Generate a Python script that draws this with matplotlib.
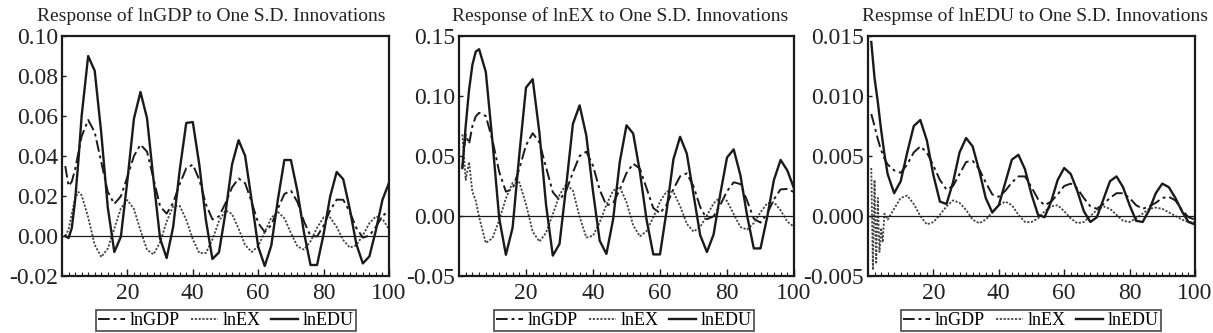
import numpy as np
import matplotlib
matplotlib.use("Agg")
import matplotlib.pyplot as plt
from matplotlib.ticker import MultipleLocator

plt.rcParams['font.family'] = ['Liberation Serif', 'DejaVu Serif']

# periods (1..6, then every 2 periods)
periods = [1, 2, 3, 4, 5, 6] + list(range(8, 101, 2))
periods_ex3 = [1, 1.5, 2, 2.5, 3, 3.5, 4, 4.5, 5, 6] + list(range(8, 101, 2))

# Response of lnGDP
gdp_gdp = [0.035, 0.025, 0.0272, 0.0333, 0.0415, 0.0498, 0.058, 0.0519, 0.037, 0.0221,
           0.016, 0.0199, 0.0296, 0.040, 0.0457, 0.0422, 0.0285, 0.0148, 0.0112, 0.0166,
           0.026, 0.0339, 0.0357, 0.0281, 0.0159, 0.0083, 0.0098, 0.0164, 0.0243, 0.0288,
           0.0264, 0.0169, 0.0065, 0.002, 0.0055, 0.0136, 0.021, 0.0227, 0.017, 0.0073,
           0.0, -0.0002, 0.0052, 0.0128, 0.0182, 0.0181, 0.0121, 0.004, -0.0008, 0.0002,
           0.0046, 0.0099, 0.0129]
gdp_ex = [0.0, 0.0032, 0.011, 0.0188, 0.022, 0.0204, 0.0094, -0.0044, -0.0105, -0.0063,
          0.00375, 0.0138, 0.018, 0.0135, 0.0028, -0.0069, -0.0092, -0.0031, 0.0072, 0.0149,
          0.015, 0.0081, -0.0016, -0.0085, -0.0085, -0.0017, 0.0074, 0.0128, 0.011, 0.0036,
          -0.0045, -0.008, -0.0051, 0.002, 0.0091, 0.012, 0.0089, 0.0015, -0.0052, -0.0068,
          -0.0027, 0.0041, 0.0093, 0.0093, 0.0045, -0.002, -0.0058, -0.0047, 0.0004, 0.0064,
          0.0098, 0.0086, 0.0033]
gdp_edu = [0.0, -0.001, 0.004, 0.0177, 0.0374, 0.0599, 0.090, 0.0826, 0.0516, 0.0143,
           -0.008, -0.0004, 0.0278, 0.0587, 0.072, 0.0589, 0.0279, -0.0013, -0.011, 0.0046,
           0.033, 0.0565, 0.057, 0.0355, 0.008, -0.0115, -0.0082, 0.0117, 0.0358, 0.0479,
           0.0401, 0.0178, -0.0054, -0.015, -0.0048, 0.018, 0.038, 0.038, 0.0223, 0.0017,
           -0.0145, -0.0145, 0.0009, 0.0197, 0.032, 0.0284, 0.0136, -0.004, -0.0137, -0.0102,
           0.0029, 0.0181, 0.0266]

# Response of lnEX
ex_gdp = [0.04, 0.068, 0.06, 0.075, 0.083, 0.086, 0.0833, 0.063, 0.0368, 0.0203,
          0.0226, 0.0393, 0.059, 0.069, 0.0614, 0.0404, 0.0199, 0.0132, 0.021, 0.0363,
          0.050, 0.0536, 0.0419, 0.0218, 0.0088, 0.0107, 0.0221, 0.0358, 0.0436, 0.0394,
          0.023, 0.0066, 0.0023, 0.0095, 0.0223, 0.0331, 0.0355, 0.0247, 0.0075, -0.0027,
          -0.0003, 0.0092, 0.0206, 0.0281, 0.0266, 0.0128, -0.0022, -0.0055, 0.0019, 0.0139,
          0.0222, 0.0225, 0.020]
ex_ex = [0.068, 0.03, 0.045, 0.02, 0.0127, -0.0008, -0.0225, -0.0184, -0.0034, 0.0147,
         0.0276, 0.0281, 0.0098, -0.0131, -0.0213, -0.0139, 0.0015, 0.0174, 0.0265, 0.0212,
         -0.0007, -0.0179, -0.0165, -0.0054, 0.0094, 0.0211, 0.024, 0.0116, -0.0078, -0.017,
         -0.0125, -0.001, 0.012, 0.0205, 0.020, 0.0082, -0.0065, -0.013, -0.0091, 0.0004,
         0.0105, 0.0158, 0.0126, 0.0015, -0.0091, -0.0114, -0.0059, 0.0031, 0.0105, 0.0115,
         0.0047, -0.0047, -0.009]
ex_edu = [0.04, 0.075, 0.105, 0.126, 0.137, 0.139, 0.1201, 0.0618, -0.0018, -0.0323,
          -0.0098, 0.0511, 0.107, 0.114, 0.0694, 0.009, -0.033, -0.0233, 0.025, 0.0767,
          0.0922, 0.0671, 0.0205, -0.0206, -0.0316, -0.0029, 0.0452, 0.0756, 0.0687, 0.0367,
          -0.0033, -0.032, -0.032, 0.0049, 0.0472, 0.066, 0.052, 0.018, -0.016, -0.030,
          -0.0154, 0.0184, 0.0487, 0.0555, 0.034, 0.0003, -0.027, -0.027, -0.0009, 0.030,
          0.0467, 0.038, 0.023]

# Response of lnEDU
edu_gdp = [0.0085, 0.0075, 0.0064, 0.0055, 0.0048, 0.0043, 0.0038, 0.0036, 0.0043, 0.0053,
           0.0058, 0.0053, 0.0042, 0.0030, 0.0022, 0.0025, 0.0035, 0.0045, 0.0046, 0.0039,
           0.0028, 0.0018, 0.0016, 0.0021, 0.0028, 0.0033, 0.0033, 0.0024, 0.0014, 0.0009,
           0.0012, 0.0018, 0.0025, 0.0027, 0.0023, 0.0015, 0.0008, 0.0006, 0.0010, 0.0015,
           0.0019, 0.0019, 0.0015, 0.0009, 0.0006, 0.0008, 0.0011, 0.0015, 0.0016, 0.0013,
           0.0005, -0.0001, -0.0003]
edu_ex = [0.004, -0.0045, 0.003, -0.004, 0.0015, -0.003, -0.001, -0.0022, 0.0002, -0.0003,
          0.0006, 0.0015, 0.0017, 0.001, 0.0, -0.0007, -0.0005, 0.0001, 0.0008, 0.0013,
          0.0011, 0.0005, -0.0003, -0.0006, -0.0003, 0.0003, 0.0009, 0.0012, 0.0009, 0.0001,
          -0.0005, -0.0005, -0.0002, 0.0004, 0.0008, 0.0009, 0.0004, -0.0002, -0.0006, -0.0005,
          0.0, 0.0005, 0.0008, 0.0006, 0.0001, -0.0004, -0.0005, -0.0002, 0.0002, 0.0006,
          0.0007, 0.0006, 0.0003, 0.0, -0.0003, -0.0005, -0.0005]
edu_edu = [0.0145, 0.0115, 0.0095, 0.0072, 0.0052, 0.0035, 0.0019, 0.0029, 0.0053, 0.0075,
           0.008, 0.0063, 0.0034, 0.0012, 0.001, 0.0028, 0.0053, 0.0065, 0.0058, 0.0038,
           0.0015, 0.0003, 0.0009, 0.0028, 0.0047, 0.0051, 0.0039, 0.0018, 0.0001, -0.0001,
           0.0012, 0.003, 0.004, 0.0035, 0.0021, 0.0004, -0.0005, -0.0001, 0.0014, 0.0029,
           0.0033, 0.0024, 0.0009, -0.0004, -0.0005, 0.0005, 0.0019, 0.0027, 0.0024, 0.0015,
           0.0004, -0.0005, -0.0007]

titles = ["Response of lnGDP to One S.D. Innovations",
          "Response of lnEX to One S.D. Innovations",
          "Respmse of lnEDU to One S.D. Innovations"]
ylims = [(-0.02, 0.10), (-0.05, 0.15), (-0.005, 0.015)]
ysteps = [0.02, 0.05, 0.005]
yfmt = ["%.2f", "%.2f", "%.3f"]

panels = [
    (periods, gdp_gdp, periods, gdp_ex, gdp_edu),
    (periods, ex_gdp, periods, ex_ex, ex_edu),
    (periods, edu_gdp, periods_ex3, edu_ex, edu_edu),
]

lefts = [62, 459, 868]
widths = [327, 335, 327]
legend_x = [226, 624, 1031]
title_x = [0.457, 0.482, 0.512]
W, H = 1213, 333

fig = plt.figure(figsize=(W / 100, H / 100), dpi=100)
ink = "#1a1a1a"

for i in range(3):
    ax = fig.add_axes([lefts[i] / W, 1 - 276 / H, widths[i] / W, 240 / H])
    x_main, y_gdp, x_ex, y_ex, y_edu = panels[i]
    ax.plot(x_main, y_gdp, color=ink, lw=1.4, dashes=(6, 2, 1.5, 2), label="lnGDP",
            solid_joinstyle="round")
    ax.plot(x_ex, y_ex, color="#444444", lw=1.3, dashes=(1.2, 0.9), label="lnEX")
    ax.plot(x_main, y_edu, color=ink, lw=1.7, label="lnEDU", solid_joinstyle="round")
    ax.axhline(0, color=ink, lw=0.9)

    ax.set_xlim(0, 100)
    ax.set_ylim(*ylims[i])
    ax.set_xticks([20, 40, 60, 80, 100])
    ax.xaxis.set_minor_locator(MultipleLocator(2))
    ax.yaxis.set_major_locator(MultipleLocator(ysteps[i]))
    ax.yaxis.set_major_formatter(plt.FormatStrFormatter(yfmt[i]))
    ax.tick_params(axis="both", which="both", direction="in", color=ink,
                   labelsize=17, top=False, right=False, labelcolor="#222222")
    ax.tick_params(axis="x", which="major", length=5, width=1, pad=5)
    ax.tick_params(axis="x", which="minor", length=3, width=0.8)
    ax.tick_params(axis="y", which="major", length=3, width=1, pad=3)
    for s in ax.spines.values():
        s.set_linewidth(1.6)
        s.set_color(ink)
    ax.set_title(titles[i], fontsize=14, pad=11, color="#222222", x=title_x[i])

    leg = ax.legend(loc="center", bbox_to_anchor=(legend_x[i] / W, 1 - 320.5 / H),
                    bbox_transform=fig.transFigure, ncol=3, fontsize=13,
                    frameon=True, fancybox=False, edgecolor=ink, handlelength=1.5,
                    handletextpad=0.25, columnspacing=0.6, borderpad=0.1,
                    borderaxespad=0)
    leg.get_frame().set_linewidth(1.2)

fig.savefig("out.png", dpi=100)
